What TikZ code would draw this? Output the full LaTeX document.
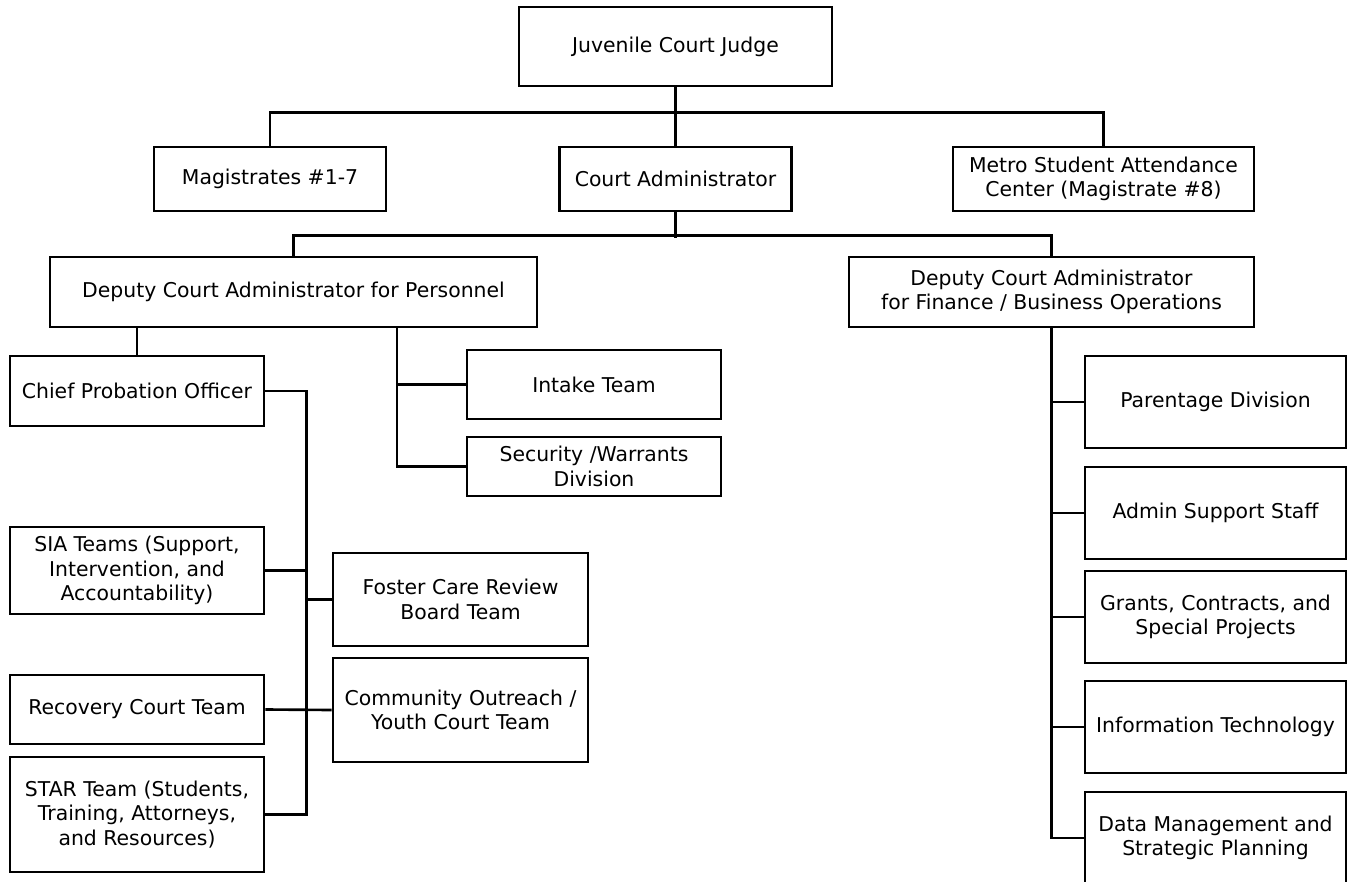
\documentclass[tikz,border=0pt]{standalone}
\usepackage{fontspec}
\setmainfont{DejaVu Sans}
\usepackage{tikz}
\usetikzlibrary{positioning,calc}

\begin{document}
\begin{tikzpicture}[
  every node/.style={font=\fontsize{11.6pt}{13.9pt}\selectfont},
  unit/.style={
    draw=black, line width=1.5pt, align=center,
    inner sep=1pt, minimum width=5.08cm, minimum height=1.38cm
  },
  link/.style={line width=1.5pt}
]

\clip (0,0) rectangle (27.02,-17.64);
\useasboundingbox (0,0) rectangle (27.02,-17.64);

%% Top levels
\node[unit, minimum width=6.26cm, minimum height=1.58cm] (judge) at (13.51,-0.93) {Juvenile Court Judge};
\node[unit, minimum width=4.64cm, minimum height=1.28cm] (mag)   at (5.40,-3.58)  {Magistrates \#1-7};
\node[unit, minimum width=4.64cm, minimum height=1.28cm] (cadm)  at (13.51,-3.58) {Court Administrator};
\node[unit, minimum width=6.02cm, minimum height=1.28cm] (metro) at (22.07,-3.58)
  {Metro Student Attendance\\Center (Magistrate \#8)};

\node[unit, minimum width=9.74cm, minimum height=1.40cm] (dcap) at (5.87,-5.84)
  {Deputy Court Administrator for Personnel};
\node[unit, minimum width=8.10cm, minimum height=1.40cm] (dcaf) at (21.03,-5.84)
  {Deputy Court Administrator\\for Finance / Business Operations};

%% Personnel side
\node[unit, minimum height=1.40cm] (chief)  at (2.74,-7.82)  {Chief Probation Officer};
\node[unit]                        (intake) at (11.88,-7.69) {Intake Team};
\node[unit, minimum height=1.18cm] (secur)  at (11.88,-9.33) {Security /Warrants\\Division};

\node[unit, minimum height=1.74cm] (sia)    at (2.74,-11.41) {SIA Teams (Support,\\Intervention, and\\Accountability)};
\node[unit]                        (recov)  at (2.74,-14.19) {Recovery Court Team};
\node[unit, minimum height=2.30cm] (star)   at (2.74,-16.29) {STAR Team (Students,\\Training, Attorneys,\\and Resources)};

\node[unit, minimum width=5.10cm, minimum height=1.86cm] (foster) at (9.21,-11.99) {Foster Care Review\\Board Team};
\node[unit, minimum width=5.10cm, minimum height=2.08cm] (commun) at (9.21,-14.20) {Community Outreach /\\Youth Court Team};

%% Finance side
\node[unit, minimum width=5.22cm, minimum height=1.84cm] (parent)   at (24.31,-8.04)  {Parentage Division};
\node[unit, minimum width=5.22cm, minimum height=1.84cm] (admin)    at (24.31,-10.26) {Admin Support Staff};
\node[unit, minimum width=5.22cm, minimum height=1.84cm] (grants)   at (24.31,-12.34) {Grants, Contracts, and\\Special Projects};
\node[unit, minimum width=5.22cm, minimum height=1.84cm] (infotech) at (24.31,-14.54) {Information Technology};
\node[unit, minimum width=5.22cm, minimum height=1.84cm] (datam)    at (24.31,-16.76) {Data Management and\\Strategic Planning};

%% Judge to second row
\draw[link] (judge.south) -- (cadm.north);
\draw[link] (mag.north) -- ++(0,0.66) -| (metro.north);

%% Court Administrator to deputies
\draw[link] (cadm.south) -- ++(0,-0.52);
\draw[link] (dcap.north) -- ++(0,0.40) -| (dcaf.north);

%% Personnel branches
\draw[link] (chief.north) -- (chief.north |- dcap.south);
\coordinate (pstem) at ([xshift=2.07cm]dcap.south);
\draw[link] (pstem) |- (secur.west);
\draw[link] (pstem |- intake.west) -- (intake.west);

%% Probation branches
\draw[link] (chief.east) -- ++(0.82,0) coordinate (cstem) |- (star.east);
\draw[link] (sia.east) -- (sia.east -| cstem);
\draw[link] (foster.west) -- (foster.west -| cstem);
\draw[link] (recov.east) -- (commun.west);

%% Finance branches
\draw[link] (dcaf.south) |- (datam.west);
\draw[link] (parent.west)   -- (parent.west -| dcaf.south);
\draw[link] (admin.west)    -- (admin.west -| dcaf.south);
\draw[link] (grants.west)   -- (grants.west -| dcaf.south);
\draw[link] (infotech.west) -- (infotech.west -| dcaf.south);

\end{tikzpicture}
\end{document}
